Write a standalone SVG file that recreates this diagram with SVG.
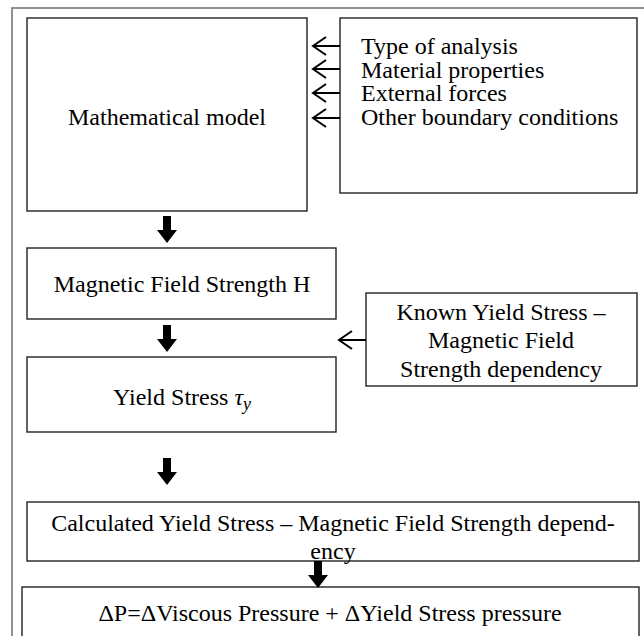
<svg xmlns="http://www.w3.org/2000/svg" width="644" height="636" viewBox="0 0 644 636">
<style>
.box{fill:#fff;stroke:#222;stroke-width:1.4}
.frame{fill:#fff;stroke:#777;stroke-width:1.6}
.t{font-family:"Liberation Serif","Times New Roman",serif;font-size:24px;fill:#000}
.c{text-anchor:middle}
.thin{fill:none;stroke:#000;stroke-width:2}
.blk{fill:#000}
</style>
<defs>
<path id="down" d="M-4,0 H4 V14 H10 L0,27 L-10,14 H-4 Z"/>
<path id="left" d="M0,0 H-27 M-14,-9 L-27,0 L-14,9"/>
</defs>
<rect class="frame" x="12" y="8" width="640" height="640"/>

<g id="mathematical-model">
<rect class="box" x="27" y="18" width="280" height="193"/>
<text class="t c" x="167" y="125">Mathematical model</text>
</g>

<g id="inputs">
<rect class="box" x="340" y="18" width="297" height="175"/>
<text class="t" x="361" y="54">Type of analysis</text>
<text class="t" x="361" y="78">Material properties</text>
<text class="t" x="361" y="101">External forces</text>
<text class="t" x="361" y="125">Other boundary conditions</text>
</g>

<g id="magnetic-field-strength">
<rect class="box" x="27" y="248" width="309" height="71"/>
<text class="t c" x="182" y="292">Magnetic Field Strength H</text>
</g>

<g id="known-dependency">
<rect class="box" x="366" y="293" width="271" height="93"/>
<text class="t c" x="501" y="320">Known Yield Stress –</text>
<text class="t c" x="501" y="348">Magnetic Field</text>
<text class="t c" x="501" y="377">Strength dependency</text>
</g>

<g id="yield-stress">
<rect class="box" x="27" y="357" width="309" height="75"/>
<text class="t c" x="182" y="405">Yield Stress <tspan font-style="italic">τ</tspan><tspan font-style="italic" font-size="18" dy="5">y</tspan></text>
</g>

<g id="calculated-dependency">
<rect class="box" x="27" y="502" width="612" height="59"/>
<text class="t c" x="333" y="531">Calculated Yield Stress – Magnetic Field Strength depend-</text>
<text class="t c" x="333" y="559">ency</text>
</g>

<g id="pressure">
<rect class="box" x="22" y="587" width="617" height="60"/>
<text class="t c" x="330" y="621">ΔP=ΔViscous Pressure + ΔYield Stress pressure</text>
</g>

<g id="connectors">
<use href="#left" class="thin" x="340" y="46"/>
<use href="#left" class="thin" x="340" y="69"/>
<use href="#left" class="thin" x="340" y="93"/>
<use href="#left" class="thin" x="340" y="118"/>
<use href="#left" class="thin" x="366" y="340"/>
<use href="#down" class="blk" x="167" y="216"/>
<use href="#down" class="blk" x="167" y="325"/>
<use href="#down" class="blk" x="167" y="458"/>
<use href="#down" class="blk" x="318" y="561"/>
</g>
</svg>
